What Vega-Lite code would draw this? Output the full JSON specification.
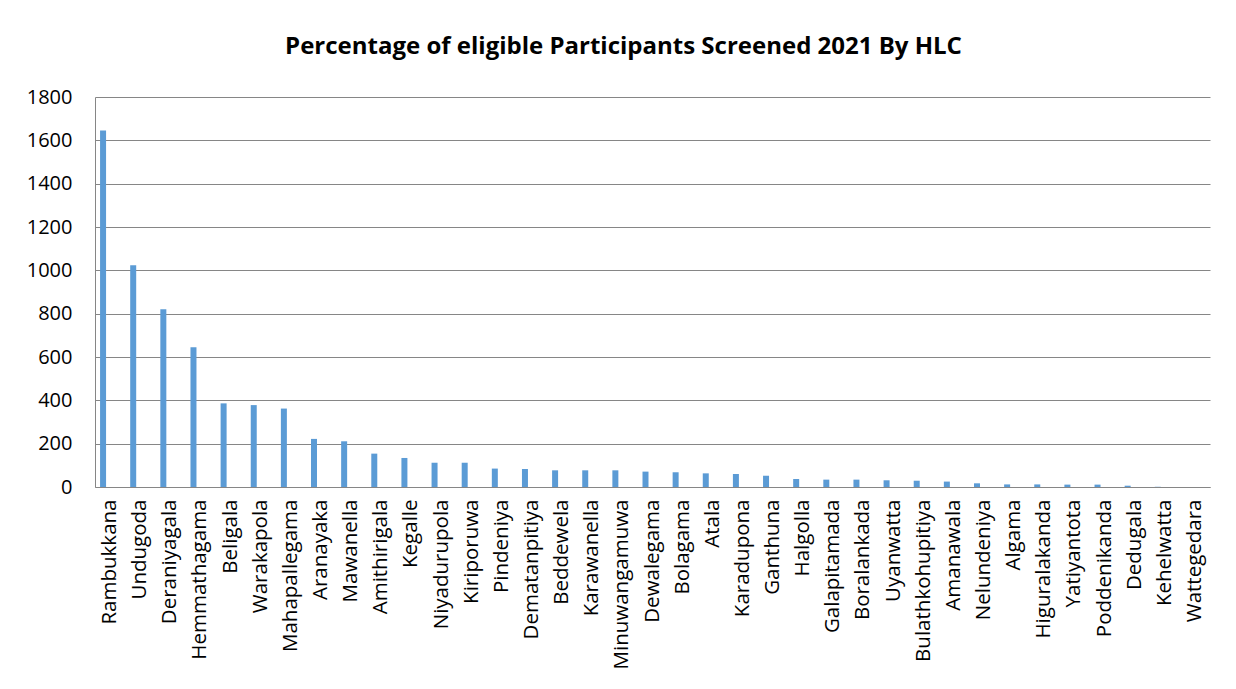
{
  "$schema": "https://vega.github.io/schema/vega-lite/v6.json",
  "width": 1115,
  "height": 390,
  "autosize": {"type": "none"},
  "padding": {"left": 95, "top": 97, "right": 26, "bottom": 202},
  "background": "white",
  "title": {
    "text": "Percentage of eligible Participants Screened 2021 By HLC",
    "font": "Open Sans",
    "fontSize": 24,
    "fontWeight": "bold",
    "color": "black",
    "anchor": "middle",
    "offset": 28,
    "dx": -29
  },
  "data": {
    "values": [
      {"hlc": "Rambukkana", "value": 1645},
      {"hlc": "Undugoda", "value": 1023},
      {"hlc": "Deraniyagala", "value": 820},
      {"hlc": "Hemmathagama", "value": 645},
      {"hlc": "Beligala", "value": 386},
      {"hlc": "Warakapola", "value": 378},
      {"hlc": "Mahapallegama", "value": 362},
      {"hlc": "Aranayaka", "value": 222},
      {"hlc": "Mawanella", "value": 211},
      {"hlc": "Amithirigala", "value": 154},
      {"hlc": "Kegalle", "value": 134},
      {"hlc": "Niyadurupola", "value": 112},
      {"hlc": "Kiriporuwa", "value": 112},
      {"hlc": "Pindeniya", "value": 85},
      {"hlc": "Dematanpitiya", "value": 83},
      {"hlc": "Beddewela", "value": 77},
      {"hlc": "Karawanella", "value": 77},
      {"hlc": "Minuwangamuwa", "value": 77},
      {"hlc": "Dewalegama", "value": 71},
      {"hlc": "Bolagama", "value": 68},
      {"hlc": "Atala", "value": 63},
      {"hlc": "Karadupona", "value": 60},
      {"hlc": "Ganthuna", "value": 52},
      {"hlc": "Halgolla", "value": 37},
      {"hlc": "Galapitamada", "value": 34},
      {"hlc": "Boralankada", "value": 34},
      {"hlc": "Uyanwatta", "value": 31},
      {"hlc": "Bulathkohupitiya", "value": 29},
      {"hlc": "Amanawala", "value": 25},
      {"hlc": "Nelundeniya", "value": 17},
      {"hlc": "Algama", "value": 12},
      {"hlc": "Higuralakanda", "value": 12},
      {"hlc": "Yatiyantota", "value": 11},
      {"hlc": "Poddenikanda", "value": 11},
      {"hlc": "Dedugala", "value": 6},
      {"hlc": "Kehelwatta", "value": 1},
      {"hlc": "Wattegedara", "value": 0}
    ]
  },
  "mark": {"type": "bar", "color": "#5B9BD5", "width": 6, "xOffset": -7},
  "encoding": {
    "x": {
      "field": "hlc",
      "type": "nominal",
      "sort": null,
      "title": null,
      "scale": {"paddingInner": 0, "paddingOuter": 0},
      "axis": {
        "labelAngle": -90,
        "labelFont": "Open Sans",
        "labelFontSize": 20.5,
        "labelColor": "black",
        "labelPadding": 12,
        "ticks": false,
        "domainColor": "#868686",
        "grid": false
      }
    },
    "y": {
      "field": "value",
      "type": "quantitative",
      "title": null,
      "scale": {"domain": [0, 1800]},
      "axis": {
        "values": [0, 200, 400, 600, 800, 1000, 1200, 1400, 1600, 1800],
        "format": "d",
        "labelFont": "Open Sans",
        "labelFontSize": 20,
        "labelColor": "black",
        "labelPadding": 23,
        "ticks": false,
        "domainColor": "#868686",
        "gridColor": "#868686",
        "gridOpacity": 1
      }
    }
  },
  "config": {"view": {"stroke": null}}
}
